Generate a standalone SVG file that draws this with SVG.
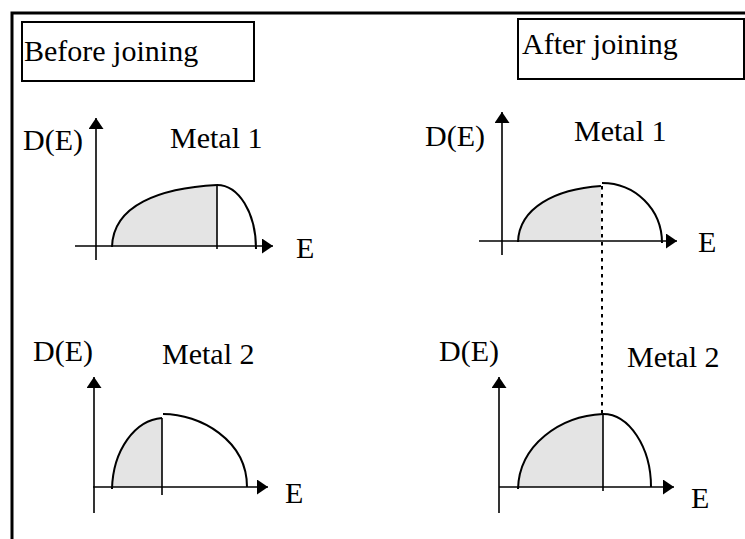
<svg xmlns="http://www.w3.org/2000/svg" width="745" height="539" viewBox="0 0 745 539">
<style>
  text { font-family: "Liberation Serif", "Times New Roman", serif; font-size: 30px; fill: #000; }
  .frame { fill: none; stroke: #000; stroke-width: 3; }
  .box { fill: #fff; stroke: #000; stroke-width: 2; }
  .axis { fill: none; stroke: #000; stroke-width: 1.6; }
  .curve { fill: none; stroke: #000; stroke-width: 2; }
  .shade { fill: #e4e4e4; stroke: none; }
  .edge { fill: none; stroke: #000; stroke-width: 1.6; }
  .dotted { fill: none; stroke: #000; stroke-width: 2; stroke-dasharray: 3.5 4.5; }
</style>
<defs>
  <marker id="ah" markerWidth="12" markerHeight="16" refX="11" refY="7.5" orient="auto" markerUnits="userSpaceOnUse">
    <path d="M0,0 L11,7.5 L0,15 z" fill="#000"/>
  </marker>
</defs>
<rect width="745" height="539" fill="#fff"/>
<path class="frame" d="M12,539 L12,13 L745,13"/>

<g id="before-label">
  <rect class="box" x="22" y="22" width="232" height="59"/>
  <text x="24" y="61">Before joining</text>
</g>
<g id="after-label">
  <rect class="box" x="518" y="19" width="226" height="60"/>
  <text x="522" y="54">After joining</text>
</g>

<g id="before-metal1">
  <path class="shade" d="M112,246 C113,205 160,188 217,185 L217,246 Z"/>
  <path class="axis" d="M75,246 L273,246" marker-end="url(#ah)"/>
  <path class="axis" d="M96,260 L96,118" marker-end="url(#ah)"/>
  <path class="curve" d="M112,247 C113,205 160,188 217,185"/>
  <path class="curve" d="M217,185 C238.5,185 256,212.5 256,249"/>
  <path class="edge" d="M217,185 L217,249"/>
  <text x="23" y="150">D(E)</text>
  <text x="170" y="148">Metal 1</text>
  <text x="296" y="258">E</text>
</g>

<g id="after-metal1">
  <path class="shade" d="M518,241 C519,208 555,189 601,186 L601,241 Z"/>
  <path class="axis" d="M479,241 L677,241" marker-end="url(#ah)"/>
  <path class="axis" d="M502,255 L502,112" marker-end="url(#ah)"/>
  <path class="curve" d="M518,242 C519,208 555,189 601,186"/>
  <path class="curve" d="M602,183 C635,183 662,209 662,243"/>
  <text x="425" y="146">D(E)</text>
  <text x="574" y="141">Metal 1</text>
  <text x="698" y="252">E</text>
</g>

<g id="before-metal2">
  <path class="shade" d="M112,487 C113,450 135,420 162,418 L162,487 Z"/>
  <path class="axis" d="M93,487 L268,487" marker-end="url(#ah)"/>
  <path class="axis" d="M94,513 L94,377" marker-end="url(#ah)"/>
  <path class="curve" d="M112,489 C113,450 135,420 162,418"/>
  <path class="curve" d="M163,414 C200,414 247,440 247,487"/>
  <path class="edge" d="M162,418 L162,495"/>
  <text x="33" y="361">D(E)</text>
  <text x="162" y="364">Metal 2</text>
  <text x="285" y="503">E</text>
</g>

<g id="after-metal2">
  <path class="shade" d="M518,487 C519,445 560,416 603,414 L603,487 Z"/>
  <path class="axis" d="M499,487 L674,487" marker-end="url(#ah)"/>
  <path class="axis" d="M499,513 L499,377" marker-end="url(#ah)"/>
  <path class="curve" d="M518,489 C519,445 560,416 603,414"/>
  <path class="curve" d="M603,414 C629,414 651,447 651,487"/>
  <path class="edge" d="M603,414 L603,491"/>
  <text x="439" y="361">D(E)</text>
  <text x="627" y="367">Metal 2</text>
  <text x="691" y="508">E</text>
</g>

<g id="connectors">
  <path class="dotted" d="M602,186 L602,414"/>
</g>
</svg>
